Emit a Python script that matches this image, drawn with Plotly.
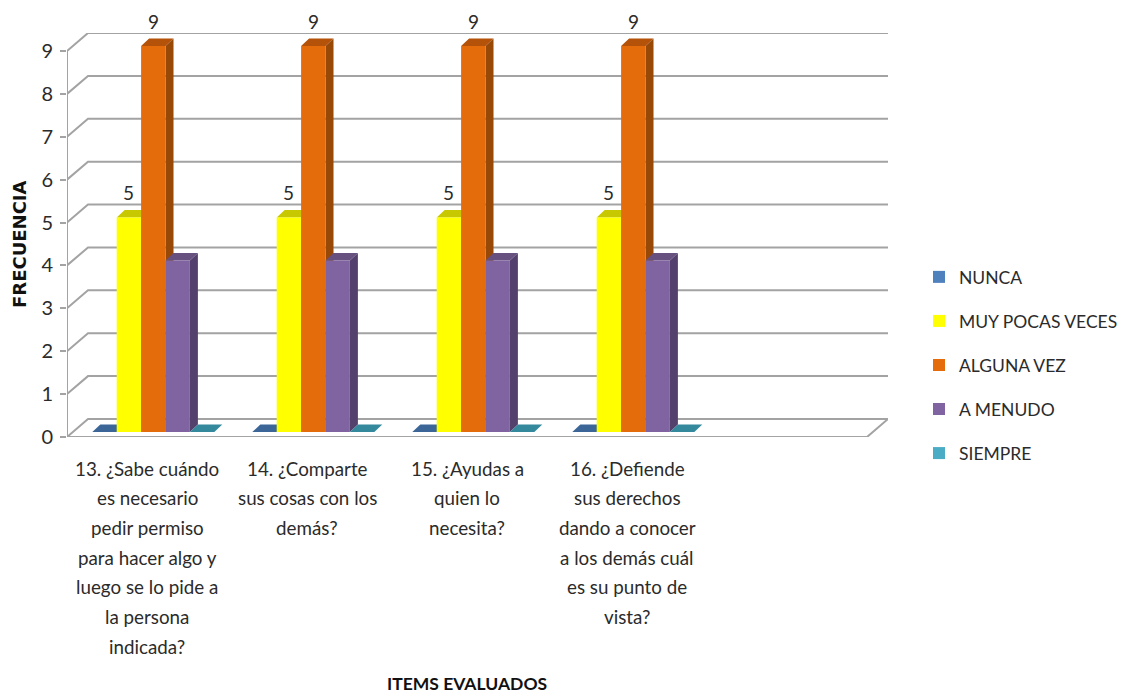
import plotly.graph_objects as go

categories = [
    ["13. ¿Sabe cuándo", "es necesario", "pedir permiso", "para hacer algo y",
     "luego se lo pide a", "la persona", "indicada?"],
    ["14. ¿Comparte", "sus cosas con los", "demás?"],
    ["15. ¿Ayudas a", "quien lo", "necesita?"],
    ["16. ¿Defiende", "sus derechos", "dando a conocer", "a los demás cuál",
     "es su punto de", "vista?"],
]
series_names = ["NUNCA", "MUY POCAS VECES", "ALGUNA VEZ", "A MENUDO", "SIEMPRE"]
nunca = [0, 0, 0, 0]
muy_pocas = [5, 5, 5, 5]
alguna = [9, 9, 9, 9]
a_menudo = [4, 4, 4, 4]
siempre = [0, 0, 0, 0]
all_values = [nunca, muy_pocas, alguna, a_menudo, siempre]
labelled = [False, True, True, False, False]
y_ticks = list(range(10))

front_colors = ["#4f81bd", "#ffff00", "#e46c0a", "#8064a2", "#4bacc6"]
side_colors = ["#345a88", "#a8a800", "#984807", "#54406c", "#31859c"]
top_colors = ["#3c6698", "#c8c800", "#b35208", "#67517f", "#34899c"]

# Oblique projection, in axis units (one category = 160 px, one value = 42.9 px)
WALL_DX, WALL_DY = 21 / 160, 18 / 42.9
BAR_DX, BAR_DY = 8 / 160, 7.5 / 42.9
BASE_DX, BASE_DY = 6.3 / 160, 5 / 42.9
BAR_W = 24.4 / 160
N_SLOTS = 5
GRID = "#a3a3a3"
TXT = "#2b2b2b"
FONT = "Lato"

shapes = []


def path_shape(points, fill):
    d = "M " + " L ".join(f"{x:.5f} {y:.5f}" for x, y in points) + " Z"
    return dict(type="path", xref="x", yref="y", path=d, fillcolor=fill,
                line=dict(width=0), layer="below")


def line_shape(points):
    d = "M " + " L ".join(f"{x:.5f} {y:.5f}" for x, y in points)
    return dict(type="path", xref="x", yref="y", path=d,
                line=dict(color=GRID, width=2), layer="below")


# gridlines on the back wall with their slanted side-wall return
for v in y_ticks:
    shapes.append(line_shape([(0, v), (WALL_DX, v + WALL_DY), (N_SLOTS + WALL_DX, v + WALL_DY)]))
# floor front edge and the value axis up to the top tick
shapes.append(line_shape([(0, 0), (N_SLOTS, 0), (N_SLOTS + WALL_DX, WALL_DY)]))
shapes.append(line_shape([(0, 0), (0, y_ticks[-1])]))

fig = go.Figure()
n_series = len(all_values)
annotations = []
for s, (name, vals) in enumerate(zip(series_names, all_values)):
    xs = [i + 0.5 + BASE_DX + (s - (n_series - 1) / 2) * BAR_W for i in range(len(vals))]
    fig.add_trace(go.Bar(
        x=xs, y=vals, base=BASE_DY, width=BAR_W, name=name, legendgroup=name,
        marker=dict(color=front_colors[s], line=dict(width=0)),
        hoverinfo="y+name",
    ))
    for x, v in zip(xs, vals):
        x0, x1 = x - BAR_W / 2, x + BAR_W / 2
        y0, y1 = BASE_DY, BASE_DY + v
        if v > 0:
            shapes.append(path_shape([(x1, y0), (x1 + BAR_DX, y0 + BAR_DY),
                                      (x1 + BAR_DX, y1 + BAR_DY), (x1, y1)], side_colors[s]))
        shapes.append(path_shape([(x0, y1), (x0 + BAR_DX, y1 + BAR_DY),
                                  (x1 + BAR_DX, y1 + BAR_DY), (x1, y1)], top_colors[s]))
        if labelled[s]:
            annotations.append(dict(
                text=str(v), x=x, y=y1, xref="x", yref="y", yanchor="middle",
                xanchor="center", yshift=25, showarrow=False,
                font=dict(family=FONT, size=19, color=TXT),
            ))

for i, lines in enumerate(categories):
    for j, line in enumerate(lines):
        annotations.append(dict(
            text=line, x=i + 0.5, xref="x", y=0, yref="paper", yanchor="middle",
            xanchor="center", yshift=-(31 + j * 29.7), showarrow=False,
            font=dict(family=FONT, size=18.8, color=TXT),
        ))
annotations.append(dict(
    text="<b>ITEMS EVALUADOS</b>", x=(467 - 67) / 160, xref="x", y=0, yref="paper",
    yanchor="middle", xanchor="center", yshift=-246, showarrow=False,
    font=dict(family=FONT, size=17.5, color="#111111"),
))
annotations.append(dict(
    text="<b>FRECUENCIA</b>", x=0, xref="x", xshift=-48, y=1 - (244 - 33) / (437 - 33),
    yref="paper", yanchor="middle", xanchor="center", textangle=-90, showarrow=False,
    font=dict(family="DejaVu Sans", size=18, color="#111111"),
))

fig.update_layout(
    width=1124, height=693, margin=dict(l=67, r=236, t=33, b=256, pad=0, autoexpand=False),
    autosize=False, paper_bgcolor="white", plot_bgcolor="white", barmode="overlay",
    shapes=shapes, annotations=annotations,
    xaxis=dict(range=[0, N_SLOTS + WALL_DX], showgrid=False, zeroline=False,
               showticklabels=False, showline=False, ticks=""),
    yaxis=dict(range=[0, 9 + WALL_DY], tickvals=y_ticks, showgrid=False, zeroline=False,
               showline=False, ticks="outside", ticklen=6,
               tickwidth=2, tickcolor=GRID, ticklabelstandoff=3,
               tickfont=dict(family=FONT, size=20, color=TXT)),
    legend=dict(x=(919 - 67) / 821, xref="paper", xanchor="left",
                y=1 - (259 - 33) / 404, yanchor="top", traceorder="grouped",
                tracegroupgap=18.3, bgcolor="rgba(0,0,0,0)",
                font=dict(family=FONT, size=17.5, color=TXT)),
    showlegend=True,
)
fig.write_html("out.html", config={"displayModeBar": False},
               post_script="document.body.style.margin='0';")
